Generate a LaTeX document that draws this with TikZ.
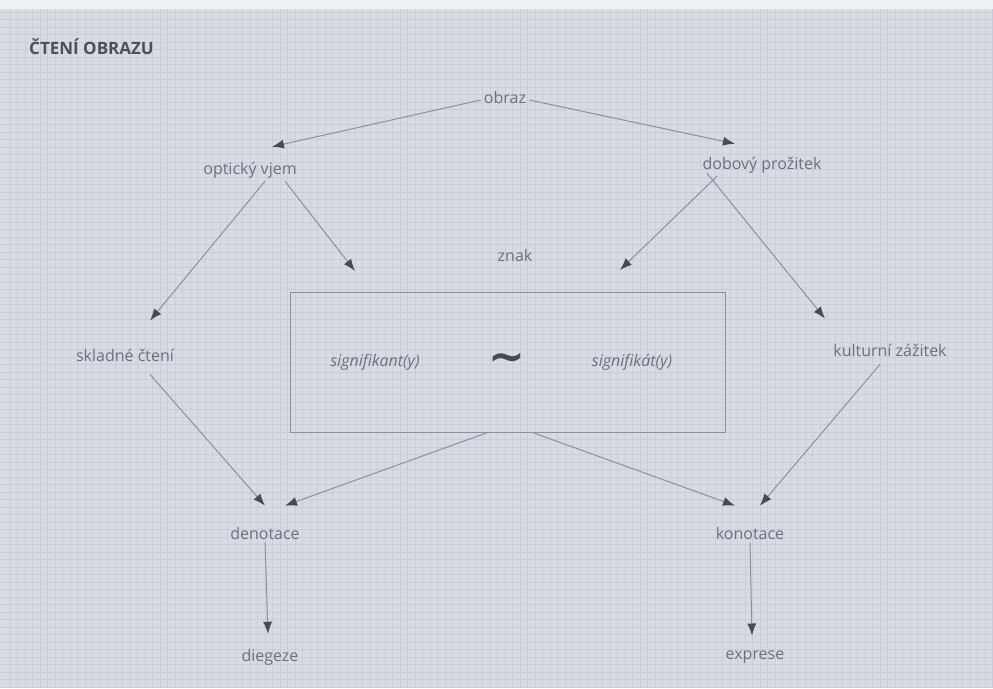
\documentclass[tikz,border=0pt]{standalone}
\usepackage{fontspec}
\setmainfont{Open Sans}
\newfontfamily\symfont{DejaVu Sans}
\usetikzlibrary{arrows.meta,calc}
\definecolor{bgc}{RGB}{215,219,227}
\definecolor{gridc}{RGB}{201,205,215}
\definecolor{txtc}{RGB}{108,112,124}
\definecolor{linec}{RGB}{140,144,156}
\definecolor{tipc}{RGB}{70,74,84}
\begin{document}
\begin{tikzpicture}[x=1pt,y=-1pt,
  lbl/.style={text=txtc,font=\fontsize{16}{18}\selectfont,inner sep=3pt},
  conn/.style={draw=linec,line width=1pt,-{Latex[length=12pt,width=9pt,color=tipc]}}]
\useasboundingbox (0,0) rectangle (993,688);
\fill[bgc] (0,0) rectangle (993,688);
\fill[white!60!bgc] (0,0) rectangle (993,9);
\foreach \gx in {10,17.5,...,993} \draw[gridc,line width=0.5pt] (\gx,9) -- (\gx,688);
\foreach \gy in {12,19.5,...,688} \draw[gridc,line width=0.5pt] (0,\gy) -- (993,\gy);
\node[lbl,anchor=west,text=tipc!85!txtc,font=\fontsize{17}{19}\selectfont\bfseries] (title) at (26,47) {ČTENÍ OBRAZU};
\node[lbl] (obraz) at (505,97) {obraz};
\node[lbl] (vjem) at (250,170) {optický vjem};
\node[lbl] (dobovy) at (762,165) {dobový prožitek};
\node[lbl] (znak) at (515,255) {znak};
\node[draw=linec,line width=1pt,minimum width=435pt,minimum height=140pt] (box) at (507.5,362) {};
\node[lbl,font=\fontsize{16}{18}\selectfont\itshape] (sgnt) at (375,362) {signifikant(y)};
\node[text=tipc,font=\fontsize{44}{46}\selectfont\symfont\bfseries] (tilde) at (507,362) {∼};
\node[lbl,font=\fontsize{16}{18}\selectfont\itshape] (sgnf) at (632,362) {signifikát(y)};
\node[lbl] (sklad) at (125,355) {skladné čtení};
\node[lbl] (kult) at (890,350) {kulturní zážitek};
\node[lbl] (denot) at (265,533) {denotace};
\node[lbl] (konot) at (750,533) {konotace};
\node[lbl] (dieg) at (270,657) {diegeze};
\node[lbl] (expr) at (755,657) {exprese};
\draw[conn] ($(obraz.west)+(0,3)$) -- ($(vjem.north)+(22,-12)$);
\draw[conn] ($(obraz.east)+(0,3)$) -- ($(dobovy.north)+(-27,-10)$);
\draw[conn] ($(vjem.south)+(15,0)$) -- ($(sklad.north)+(25,-25)$);
\draw[conn] ($(vjem.south)+(35,0)$) -- (355,271);
\draw[conn] ($(dobovy.south)+(-45,0)$) -- (620,270);
\draw[conn] ($(dobovy.south)+(-55,-3)$) -- ($(kult.north)+(-65,-22)$);
\draw[conn] ($(sklad.south)+(25,10)$) -- ($(denot.north)+(0,-18)$);
\draw[conn] ($(box.south)+(-20,0)$) -- ($(denot.north)+(20,-18)$);
\draw[conn] ($(box.south)+(25,0)$) -- ($(konot.north)+(-15,-18)$);
\draw[conn] ($(kult.south)+(-10,5)$) -- ($(konot.north)+(10,-18)$);
\draw[conn] (denot.south) -- ($(dieg.north)+(-2,-12)$);
\draw[conn] (konot.south) -- ($(expr.north)+(-3,-12)$);
\end{tikzpicture}
\end{document}
